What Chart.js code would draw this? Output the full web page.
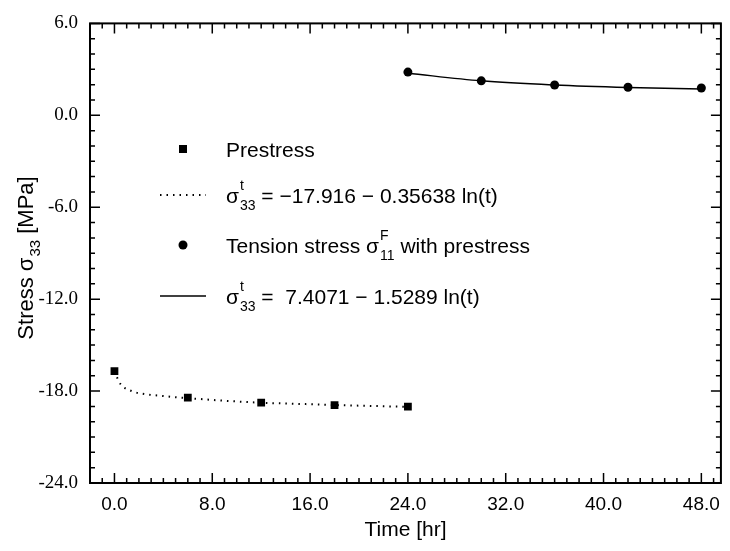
<!DOCTYPE html>
<html>
<head>
<meta charset="utf-8">
<script src="https://cdn.jsdelivr.net/npm/chart.js@4.4.0/dist/chart.umd.min.js"></script>
<style>
  html, body { margin: 0; padding: 0; background: #fff; }
  #wrap { width: 730px; height: 551px; }
</style>
</head>
<body>
<div id="wrap"><canvas id="chart" width="730" height="551"></canvas></div>
<script>
// axis ticks
const xTicks = [0, 8, 16, 24, 32, 40, 48];
const yTicks = [-24, -18, -12, -6, 0, 6];

// measured points
const prestressT = [0, 6, 12, 18, 24];
const prestressVal = [-16.7, -18.42, -18.75, -18.92, -19.02];
const tensionT = [24, 30, 36, 42, 48];
const tensionVal = [2.82, 2.25, 1.98, 1.83, 1.78];

// fitted curves
const prestressFitT = [0.2, 0.5, 1.4, 2.5, 3.7, 5, 7, 9.4, 12, 14.8, 18, 21, 24];
const prestressFitVal = [-17.1, -17.55, -18.0, -18.2, -18.3, -18.4, -18.52, -18.65, -18.76, -18.83, -18.91, -18.97, -19.03];
const tensionFitT = [24, 30, 36, 42, 48];
const tensionFitVal = [2.75, 2.25, 1.98, 1.82, 1.72];

const SANS = "'Liberation Sans', Arial, sans-serif";
const SERIF = "'Liberation Serif', 'Times New Roman', serif";

const pts = (xs, ys) => xs.map((x, i) => ({ x, y: ys[i] }));

// text with stacked super/subscripts
function richWidth(ctx, parts, size) {
  let w = 0;
  parts.forEach(p => {
    if (p.t) { ctx.font = size + 'px ' + SANS; w += ctx.measureText(p.t).width; }
    else {
      ctx.font = Math.round(size * 0.68) + 'px ' + SANS;
      w += Math.max(ctx.measureText(p.sup || '').width, ctx.measureText(p.sub || '').width) + 1;
    }
  });
  return w;
}
function drawRich(ctx, x, y, parts, size) {
  ctx.textBaseline = 'alphabetic';
  ctx.textAlign = 'left';
  parts.forEach(p => {
    if (p.t) {
      ctx.font = size + 'px ' + SANS;
      ctx.fillText(p.t, x, y);
      x += ctx.measureText(p.t).width;
    } else {
      const s = Math.round(size * 0.68);
      ctx.font = s + 'px ' + SANS;
      if (p.sup) ctx.fillText(p.sup, x + 1, y - size * 0.6);
      if (p.sub) ctx.fillText(p.sub, x + 1, y + size * 0.32);
      x += Math.max(ctx.measureText(p.sup || '').width, ctx.measureText(p.sub || '').width) + 1;
    }
  });
  return x;
}

const framePlugin = {
  id: 'frame',
  afterDraw(chart) {
    const ctx = chart.ctx;
    const a = chart.chartArea;
    const xs = chart.scales.x, ys = chart.scales.y;
    ctx.save();
    ctx.strokeStyle = '#000';

    // ticks on all four sides
    ctx.lineWidth = 1.5;
    ctx.beginPath();
    for (let v = Math.ceil(xs.min); v <= xs.max; v++) {
      const px = xs.getPixelForValue(v);
      const len = xTicks.includes(v) ? 10 : 5;
      ctx.moveTo(px, a.bottom); ctx.lineTo(px, a.bottom - len);
      ctx.moveTo(px, a.top); ctx.lineTo(px, a.top + len);
    }
    for (let v = ys.min; v <= ys.max; v++) {
      const py = ys.getPixelForValue(v);
      const len = yTicks.includes(v) ? 10 : 5;
      ctx.moveTo(a.left, py); ctx.lineTo(a.left + len, py);
      ctx.moveTo(a.right, py); ctx.lineTo(a.right - len, py);
    }
    ctx.stroke();

    ctx.lineWidth = 2;
    ctx.strokeRect(a.left, a.top, a.right - a.left, a.bottom - a.top);

    // y axis title
    ctx.fillStyle = '#000';
    const yTitle = [{ t: 'Stress σ' }, { sub: '33' }, { t: ' [MPa]' }];
    ctx.translate(25, 258);
    ctx.rotate(-Math.PI / 2);
    const w = richWidth(ctx, yTitle, 22);
    drawRich(ctx, -w / 2, 8, yTitle, 22);
    ctx.setTransform(1, 0, 0, 1, 0, 0);

    // legend
    const fs = 21;
    const mx = 183, tx = 226;
    const rows = [149, 195, 245, 296];
    ctx.fillRect(mx - 4, rows[0] - 4, 8, 8);
    drawRich(ctx, tx, rows[0] + 8, [{ t: 'Prestress' }], fs);

    ctx.lineWidth = 2;
    ctx.setLineDash([1.5, 5]);
    ctx.beginPath(); ctx.moveTo(160, rows[1]); ctx.lineTo(206, rows[1]); ctx.stroke();
    ctx.setLineDash([]);
    drawRich(ctx, tx, rows[1] + 8, [{ t: 'σ' }, { sup: 't', sub: '33' }, { t: ' = −17.916 − 0.35638 ln(t)' }], fs);

    ctx.beginPath(); ctx.arc(mx, rows[2], 4.5, 0, Math.PI * 2); ctx.fill();
    drawRich(ctx, tx, rows[2] + 8, [{ t: 'Tension stress σ' }, { sup: 'F', sub: '11' }, { t: ' with prestress' }], fs);

    ctx.lineWidth = 1.5;
    ctx.beginPath(); ctx.moveTo(160, rows[3]); ctx.lineTo(206, rows[3]); ctx.stroke();
    drawRich(ctx, tx, rows[3] + 8, [{ t: 'σ' }, { sup: 't', sub: '33' }, { t: ' =  7.4071 − 1.5289 ln(t)' }], fs);
    ctx.restore();
  }
};

new Chart(document.getElementById('chart'), {
  type: 'scatter',
  data: {
    datasets: [
      {
        label: 'prestress fit',
        data: pts(prestressFitT, prestressFitVal),
        showLine: true,
        borderColor: '#000',
        borderWidth: 2,
        borderDash: [1.5, 5],
        cubicInterpolationMode: 'monotone',
        pointRadius: 0
      },
      {
        label: 'tension fit',
        data: pts(tensionFitT, tensionFitVal),
        showLine: true,
        borderColor: '#000',
        borderWidth: 1.5,
        cubicInterpolationMode: 'monotone',
        pointRadius: 0
      },
      {
        label: 'Prestress',
        data: pts(prestressT, prestressVal),
        pointStyle: 'rect',
        pointRadius: 5.5,
        backgroundColor: '#000',
        borderColor: '#000',
        borderWidth: 0
      },
      {
        label: 'Tension stress',
        data: pts(tensionT, tensionVal),
        pointStyle: 'circle',
        pointRadius: 4.5,
        backgroundColor: '#000',
        borderColor: '#000',
        borderWidth: 0
      }
    ]
  },
  options: {
    responsive: false,
    animation: false,
    layout: { autoPadding: false, padding: { top: 13, right: 5, left: 0, bottom: 0 } },
    plugins: { legend: { display: false }, tooltip: { enabled: false } },
    scales: {
      x: {
        type: 'linear',
        min: -2,
        max: 49.6,
        grid: { display: false, drawTicks: false },
        border: { display: false },
        afterBuildTicks: s => { s.ticks = xTicks.map(v => ({ value: v })); },
        afterFit: s => { s.height = 68; },
        ticks: {
          color: '#000',
          padding: 10,
          font: { family: SANS, size: 19 },
          callback: v => v.toFixed(1)
        },
        title: {
          display: true,
          text: 'Time [hr]',
          color: '#000',
          font: { family: SANS, size: 21 },
          padding: { top: 0, bottom: 8 }
        }
      },
      y: {
        type: 'linear',
        min: -24,
        max: 6,
        grid: { display: false, drawTicks: false },
        border: { display: false },
        afterBuildTicks: s => { s.ticks = yTicks.map(v => ({ value: v })); },
        afterFit: s => { s.width = 90; },
        ticks: {
          color: '#000',
          padding: 12,
          font: { family: SERIF, size: 19 },
          callback: v => v.toFixed(1)
        }
      }
    }
  },
  plugins: [framePlugin]
});
</script>
</body>
</html>
